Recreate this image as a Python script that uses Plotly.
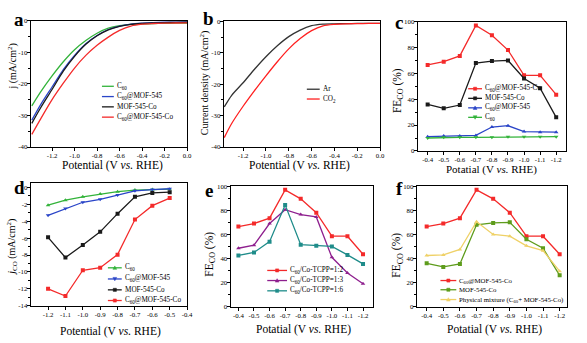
import plotly.graph_objects as go

W, H = 587, 343
FONT = "Liberation Serif"

# ---------------- data ----------------
# panel a: LSV curves
pot_a = [-1.38, -1.3, -1.2, -1.1, -1.0, -0.9, -0.8, -0.7, -0.6, -0.5, -0.4, -0.3, -0.2, -0.1, 0.0]
a_c60 = [-27, -22.5, -17.5, -13, -9.2, -6.3, -4.0, -2.4, -1.6, -1.2, -1.0, -0.9, -0.85, -0.8, -0.75]
a_c60mof = [-31.5, -26.5, -21, -15.5, -11, -7.3, -4.7, -2.8, -1.7, -1.1, -0.8, -0.6, -0.5, -0.45, -0.4]
a_mofco = [-32.5, -27.5, -21.8, -16, -11.3, -7.5, -4.8, -2.9, -1.8, -1.2, -0.9, -0.7, -0.6, -0.55, -0.5]
a_c60mofco = [-36, -31, -25, -19.8, -15, -11, -7.8, -5.2, -3.1, -1.7, -1.1, -0.9, -0.8, -0.75, -0.7]

# panel b: Ar vs CO2
pot_b = [-1.365, -1.3, -1.2, -1.1, -1.0, -0.9, -0.8, -0.7, -0.6, -0.5, -0.4, -0.3, -0.2, -0.1, 0.0]
b_ar = [-27.2, -23.5, -19.5, -15.2, -11.2, -7.7, -4.8, -2.7, -1.3, -0.8, -0.7, -0.65, -0.6, -0.6, -0.6]
b_co2 = [-37, -32.5, -27, -22, -17.3, -12.8, -8.7, -5.4, -2.9, -1.4, -0.9, -0.7, -0.65, -0.6, -0.6]

# panels c, e, f: FE_CO
pot_fe = [-0.4, -0.5, -0.6, -0.7, -0.8, -0.9, -1.0, -1.1, -1.2]
fe_c60mofco = [66.5, 69, 73.5, 97, 89.5, 78, 58.5, 58.5, 43.5]
fe_mofco = [36, 33, 35.5, 68, 69.5, 70, 56, 48.5, 26]
fe_c60mof = [11, 11.5, 11.5, 12, 18.5, 19.5, 15, 14.5, 14.5]
fe_c60 = [10, 10.5, 10.5, 10.5, 10.5, 11, 11, 11, 11]
fe_13 = [48.5, 51, 69, 80.5, 76.5, 74.5, 41, 28, 19]
fe_16 = [42.5, 45, 54, 84.5, 51.5, 50.5, 50, 43, 35.5]
fe_mix = [42.5, 43, 47.5, 70.5, 60, 58.5, 50.5, 46.5, 29.5]

# panel d: partial current density
pot_d = [-1.2, -1.1, -1.0, -0.9, -0.8, -0.7, -0.6, -0.5]
d_c60 = [-2.1, -1.5, -1.1, -0.77, -0.5, -0.3, -0.23, -0.2]
d_c60mof = [-3.3, -2.5, -1.75, -1.4, -0.9, -0.4, -0.25, -0.15]
d_mofco = [-5.9, -8.3, -6.8, -5.25, -3.1, -1.1, -0.65, -0.55]
d_c60mofco = [-12, -12.85, -9.8, -9.5, -7.95, -3.8, -2.15, -1.25]

# tick labels
ticks_lsv = [-1.2, -1.0, -0.8, -0.6, -0.4, -0.2, 0.0]
ticklab_lsv = ["-1.2", "-1.0", "-0.8", "-0.6", "-0.4", "-0.2", "0.0"]
ticklab_fe = ["-0.4", "-0.5", "-0.6", "-0.7", "-0.8", "-0.9", "-1.0", "-1.1", "-1.2"]
ticks_d = [-1.2, -1.1, -1.0, -0.9, -0.8, -0.7, -0.6, -0.5, -0.4]
ticklab_d = ["-1.2", "-1.1", "-1.0", "-0.9", "-0.8", "-0.7", "-0.6", "-0.5", "-0.4"]

RED = "#f42a2a"
BLACK = "#1a1a1a"
BLUE = "#2a45c8"
GREEN = "#33b33a"
PURPLE = "#8e1f8e"
TEAL = "#1f8c8a"
OLIVE = "#5e9c1c"
YELLOW = "#efd167"

fig = go.Figure()


def px_x(p):
    return p / W


def px_y(p):
    return 1 - p / H


def add_line(n, x, y, color, symbol=None, shape="linear"):
    ax = "" if n == 1 else str(n)
    mode = "lines+markers" if symbol else "lines"
    fig.add_trace(go.Scatter(
        x=x, y=y, mode=mode, xaxis="x" + ax, yaxis="y" + ax,
        line=dict(color=color, width=1.3, shape=shape, smoothing=0.8),
        marker=dict(symbol=symbol or "circle", size=4, color=color),
        showlegend=False, hoverinfo="skip"))


add_line(1, pot_a, a_c60, GREEN, shape="spline")
add_line(1, pot_a, a_c60mof, BLUE, shape="spline")
add_line(1, pot_a, a_mofco, BLACK, shape="spline")
add_line(1, pot_a, a_c60mofco, RED, shape="spline")

add_line(2, pot_b, b_ar, "#333333", shape="spline")
add_line(2, pot_b, b_co2, "#ff2020", shape="spline")

add_line(3, pot_fe, fe_c60mofco, RED, "square")
add_line(3, pot_fe, fe_mofco, BLACK, "square")
add_line(3, pot_fe, fe_c60mof, BLUE, "triangle-up")
add_line(3, pot_fe, fe_c60, GREEN, "triangle-down")

add_line(4, pot_d, d_c60, GREEN, "triangle-up")
add_line(4, pot_d, d_c60mof, BLUE, "triangle-down")
add_line(4, pot_d, d_mofco, BLACK, "square")
add_line(4, pot_d, d_c60mofco, RED, "square")

add_line(5, pot_fe, fe_c60mofco, RED, "square")
add_line(5, pot_fe, fe_13, PURPLE, "triangle-up")
add_line(5, pot_fe, fe_16, TEAL, "square")

add_line(6, pot_fe, fe_c60mofco, RED, "square")
add_line(6, pot_fe, fe_mofco, OLIVE, "square")
add_line(6, pot_fe, fe_mix, YELLOW, "triangle-up")

# ---------------- axes ----------------
TICKFONT = dict(family=FONT, size=6.8, color="black")


def ax_style(domain, rng, **kw):
    d = dict(domain=domain, range=rng, showline=True, linecolor="black", linewidth=1,
             mirror=True, ticks="outside", ticklen=3, tickwidth=1, tickcolor="black",
             showgrid=False, zeroline=False, tickfont=TICKFONT, fixedrange=True)
    d.update(kw)
    return d


panels = {
    1: ((31, 189), (17, 146)),
    2: ((226, 384), (17, 146)),
    3: ((422, 572), (18, 150)),
    4: ((31, 189), (183, 308)),
    5: ((233, 377), (186, 309)),
    6: ((421, 573), (186, 309)),
}


def dom(n):
    (x0, x1), (y0, y1) = panels[n]
    return [px_x(x0), px_x(x1)], [px_y(y1), px_y(y0)]


layout = {}
minor_y = dict(ticks="outside", ticklen=1.5, tickcolor="black")
for n in range(1, 7):
    xd, yd = dom(n)
    key = "" if n == 1 else str(n)
    xs = dict(anchor="y" + key, ticklabelstandoff=-1)
    ys = dict(anchor="x" + key, ticklabelstandoff=-2)
    if n in (1, 2):
        xr = [-1.39, 0] if n == 1 else [-1.37, 0]
        yr = [-40, 0] if n == 1 else [-40, 0.3]
        layout["xaxis" + key] = ax_style(xd, xr, tickvals=ticks_lsv, ticktext=ticklab_lsv, **xs)
        layout["yaxis" + key] = ax_style(yd, yr, tickvals=[0, -10, -20, -30, -40],
                                         ticktext=["0", "-10", "-20", "-30", "-40"],
                                         minor=dict(dtick=5, **minor_y), **ys)
    elif n == 4:
        layout["xaxis4"] = ax_style(xd, [-1.3, -0.4], tickvals=ticks_d, ticktext=ticklab_d, **xs)
        layout["yaxis4"] = ax_style(yd, [-14, 0.5], tickvals=[0, -2, -4, -6, -8, -10, -12, -14],
                                    ticktext=["0", "-2", "-4", "-6", "-8", "-10", "-12", "-14"],
                                    minor=dict(dtick=1, **minor_y), **ys)
    else:
        xr = {3: [-0.338, -1.262], 5: [-0.35, -1.265], 6: [-0.34, -1.245]}[n]
        layout["xaxis" + key] = ax_style(xd, xr, tickvals=pot_fe, ticktext=ticklab_fe, **xs)
        layout["yaxis" + key] = ax_style(yd, [0, 100], tickvals=[0, 20, 40, 60, 80, 100],
                                         ticktext=["0", "20", "40", "60", "80", "100"],
                                         minor=dict(dtick=10, **minor_y), **ys)

fig.update_layout(**layout)

# ---------------- text ----------------
def text(x, y, s, size=11.5, angle=0, xanchor="center", yanchor="middle", color="black"):
    fig.add_annotation(x=px_x(x), y=px_y(y), xref="paper", yref="paper", text=s,
                       showarrow=False, textangle=angle, xanchor=xanchor, yanchor=yanchor,
                       font=dict(family=FONT, size=size, color=color), borderpad=0)


# panel letters
for lab, (x, y) in {"a": (13, 16), "b": (204, 15), "c": (398, 19), "d": (13, 187),
                    "e": (206, 190), "f": (399, 188)}.items():
    text(x, y, "<b>" + lab + "</b>", size=19, xanchor="left")

VS = "<i>vs.</i>"
text(114, 165, "Potential (V " + VS + " RHE)")
text(303, 165, "Potential (V " + VS + " RHE)")
text(497, 168.5, "Potatial (V " + VS + " RHE)", size=11)
text(112, 334, "Potential (V " + VS + " RHE)")
text(307, 332, "Potatial (V " + VS + " RHE)")
text(500, 332, "Potatial (V " + VS + " RHE)")

text(13, 64, "j (mA/cm<sup>2</sup>)", size=10, angle=-90)
text(206, 80, "Current density (mA/cm<sup>2</sup>)", size=10, angle=-90)
text(402, 88, "FE<sub>CO</sub> (%)", size=11.5, angle=-90)
text(12, 248, "<i>j</i><sub>CO</sub> (mA/cm<sup>2</sup>)", size=10, angle=-90)
text(212, 255, "FE<sub>CO</sub> (%)", size=11.5, angle=-90)
text(401, 256, "FE<sub>CO</sub> (%)", size=11.5, angle=-90)


# ---------------- legends ----------------
def marker_path(cx, cy, symbol, s=1.6):
    if symbol == "square":
        pts = [(cx - s, cy - s), (cx + s, cy - s), (cx + s, cy + s), (cx - s, cy + s)]
    elif symbol == "triangle-up":
        pts = [(cx, cy - s * 1.2), (cx + s * 1.2, cy + s), (cx - s * 1.2, cy + s)]
    else:
        pts = [(cx, cy + s * 1.2), (cx + s * 1.2, cy - s), (cx - s * 1.2, cy - s)]
    return "M " + " L ".join("%f,%f" % (px_x(a), px_y(b)) for a, b in pts) + " Z"


def legend(x0, x1, xt, ys, entries, size=7.2):
    for y, (label, color, symbol) in zip(ys, entries):
        fig.add_shape(type="line", xref="paper", yref="paper", x0=px_x(x0), x1=px_x(x1),
                      y0=px_y(y), y1=px_y(y), line=dict(color=color, width=1.3))
        if symbol:
            fig.add_shape(type="path", xref="paper", yref="paper",
                          path=marker_path((x0 + x1) / 2, y, symbol),
                          fillcolor=color, line=dict(color=color, width=0.5))
        text(xt, y, label, size=size, xanchor="left")


C60 = "C<sub>60</sub>"
legend(103, 115, 117, [84, 94.5, 105, 115.5],
       [(C60, GREEN, None), (C60 + "@MOF-545", BLUE, None),
        ("MOF-545-Co", BLACK, None), (C60 + "@MOF-545-Co", RED, None)])
legend(310, 323, 325, [87, 97], [("Ar", "#333333", None), ("CO<sub>2</sub>", "#ff2020", None)])
legend(473, 487, 489, [86.5, 96.3, 106, 115.7],
       [(C60 + "@MOF-545-Co", RED, "square"), ("MOF-545-Co", BLACK, "square"),
        (C60 + "@MOF-545", BLUE, "triangle-up"), (C60, GREEN, "triangle-down")])
legend(109, 123, 125, [269.3, 280.7, 291.8, 302.7],
       [(C60, GREEN, "triangle-up"), (C60 + "@MOF-545", BLUE, "triangle-down"),
        ("MOF-545-Co", BLACK, "square"), (C60 + "@MOF-545-Co", RED, "square")])
legend(270, 290, 292, [272, 282.3, 292.8],
       [(C60 + "/Co-TCPP=1:2", RED, "square"), (C60 + "/Co-TCPP=1:3", PURPLE, "triangle-up"),
        (C60 + "/Co-TCPP=1:6", TEAL, "square")])
legend(445, 461, 463, [282.3, 291.7, 301.7],
       [(C60 + "@MOF-545-Co", RED, "square"), ("MOF-545-Co", OLIVE, "square"),
        ("Physical mixture (" + C60 + "+ MOF-545-Co)", YELLOW, "triangle-up")], size=6.8)

fig.update_layout(width=W, height=H, margin=dict(l=0, r=0, t=0, b=0),
                  paper_bgcolor="white", plot_bgcolor="white", showlegend=False,
                  hovermode=False, dragmode=False)

fig.write_html("out.html", config={"displayModeBar": False, "staticPlot": True},
               post_script="document.body.style.margin='0px';document.body.style.overflow='hidden';")
